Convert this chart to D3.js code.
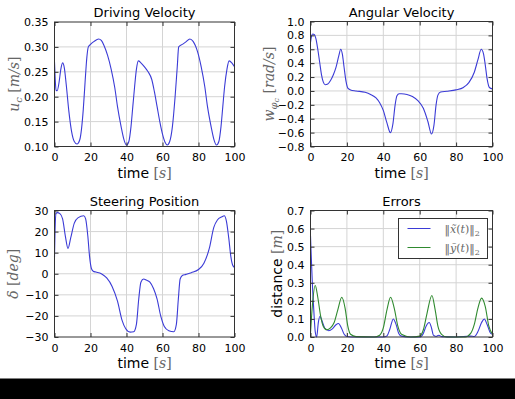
<!DOCTYPE html>
<meta charset="utf-8">
<style>
body { margin: 0; background: #fff; }
.tick text { font-family: "DejaVu Sans"; font-size: 11px; fill: #000; }
.title { font-family: "DejaVu Sans"; font-size: 13px; text-anchor: middle; }
.xlab { font-family: "DejaVu Sans"; font-size: 14px; text-anchor: middle; }
.math { font-family: "DejaVu Serif"; fill: #666; }
</style>
<body>
<script src="https://cdn.jsdelivr.net/npm/d3@7/dist/d3.min.js"></script>
<script>
// x ticks shared by all panels
var timeTicks = [0, 20, 40, 60, 80, 100];

// driving velocity u_c [m/s]
var velT = [0, 0.4, 0.9, 1.5, 2.5, 3.5, 4.5, 5.5, 6.5, 8, 9.5, 11, 12.5, 14, 15, 16, 17, 18, 18.8, 20, 22, 24.5, 26, 27.5, 29.5, 31.5, 33.5, 35, 37, 38.5, 40, 41.3, 42.5, 43.5, 44.5, 45.5, 46.6, 48, 50, 52, 54, 55.5, 57, 58.5, 60, 61.5, 62.6, 64, 65.5, 67, 68.2, 69, 71, 73, 75.2, 77, 79.5, 81.5, 83.5, 85, 87, 88.5, 90, 91.3, 92.5, 93.5, 94.5, 95.8, 97, 98.5, 100];
var velV = [0.27, 0.235, 0.213, 0.212, 0.228, 0.255, 0.268, 0.257, 0.225, 0.17, 0.13, 0.11, 0.105, 0.113, 0.135, 0.175, 0.23, 0.28, 0.30, 0.305, 0.311, 0.316, 0.313, 0.303, 0.283, 0.255, 0.218, 0.18, 0.14, 0.115, 0.103, 0.11, 0.14, 0.18, 0.22, 0.255, 0.272, 0.268, 0.26, 0.25, 0.235, 0.21, 0.18, 0.15, 0.125, 0.108, 0.103, 0.11, 0.14, 0.2, 0.26, 0.30, 0.305, 0.31, 0.316, 0.311, 0.29, 0.26, 0.22, 0.18, 0.14, 0.115, 0.103, 0.11, 0.14, 0.18, 0.22, 0.255, 0.272, 0.268, 0.26];
var velTicks = [0.10, 0.15, 0.20, 0.25, 0.30, 0.35];

// angular velocity w [rad/s]
var angT = [0, 0.5, 1.2, 2.2, 3, 4, 5, 6, 7, 8, 9.5, 11, 12.5, 14, 15.5, 16.6, 17.5, 18.5, 19.5, 20.5, 22, 25, 30, 33, 36, 38, 40, 42, 43.9, 45.3, 46.5, 47.5, 48.7, 50, 53, 56, 59, 62, 64.5, 66.5, 67.8, 69, 70, 71.5, 75, 80, 84, 87, 90, 92, 93.8, 95, 96, 97, 98.3, 100];
var angV = [0.7, 0.78, 0.82, 0.81, 0.75, 0.6, 0.42, 0.24, 0.13, 0.09, 0.1, 0.15, 0.23, 0.34, 0.5, 0.6, 0.53, 0.33, 0.14, 0.04, 0.015, 0.0, -0.02, -0.05, -0.1, -0.17, -0.28, -0.46, -0.6, -0.47, -0.2, -0.07, -0.04, -0.04, -0.05, -0.08, -0.14, -0.25, -0.44, -0.62, -0.5, -0.2, -0.06, -0.015, -0.005, 0.015, 0.05, 0.12, 0.27, 0.45, 0.6, 0.54, 0.38, 0.18, 0.05, 0.03];
var angTicks = [-0.8, -0.6, -0.4, -0.2, 0.0, 0.2, 0.4, 0.6, 0.8, 1.0];

// steering position delta [deg]
var steerT = [0, 0.3, 0.8, 1.5, 3, 4.5, 6, 7.5, 9, 11, 13, 16.3, 17.3, 18.5, 19.5, 20.5, 21.5, 23, 26, 29, 32, 35, 37.5, 39.5, 42, 44, 45.5, 46.8, 48, 49.5, 51, 53, 55, 57, 59, 61, 63.5, 66.3, 67.7, 68.8, 69.8, 71, 73, 76, 80, 83, 86, 88.5, 90.5, 93, 94.3, 95.5, 96.8, 98, 99, 100];
var steerV = [8, 20, 28.5, 29, 28.5, 26, 18, 12, 17, 24, 26.5, 27.5, 26, 18, 8, 2.5, 1.2, 0.8, 0, -2, -6, -13, -22, -26, -27.7, -27.5, -24, -12, -4, -2.5, -3, -4, -7, -12, -20, -25, -27, -27.5, -24, -12, -2.5, -0.8, -0.3, 0.5, 2, 5, 12, 22, 25.5, 27, 27.5, 25, 17, 8, 4, 3];
var steerTicks = [-30, -20, -10, 0, 10, 20, 30];

// errors ||x~(t)||_2 and ||y~(t)||_2 [m]
var errXT = [0, 0.4, 1, 1.8, 2.6, 3.4, 4.3, 5.2, 6.3, 7.8, 10, 12, 14, 15.4, 17, 18.5, 20, 25, 30, 40, 42, 43.5, 45.5, 47, 48.5, 50, 55, 60, 62, 63.5, 65.2, 66.5, 67.5, 69, 70.5, 72, 80, 88, 90, 92, 94, 95.5, 97, 99, 100];
var errXV = [0.56, 0.45, 0.3, 0.15, 0.03, 0.0, 0.08, 0.115, 0.09, 0.05, 0.035, 0.045, 0.068, 0.075, 0.05, 0.015, 0.003, 0.0, 0.0, 0.0, 0.006, 0.04, 0.1, 0.07, 0.02, 0.005, 0.0, 0.0, 0.02, 0.06, 0.08, 0.05, 0.01, 0.003, 0.01, 0.002, 0.0, 0.005, 0.003, 0.03, 0.08, 0.1, 0.07, 0.02, 0.015];
var errYT = [0, 1, 2.6, 4, 5.5, 7, 9, 11, 13, 15, 17.2, 19, 20.5, 22, 25, 35, 38, 40, 42, 44, 46, 48, 50, 55, 60, 62, 64, 66.7, 68.5, 70, 72, 75, 85, 88, 90, 92, 94, 96, 98, 100];
var errYV = [0.02, 0.17, 0.285, 0.22, 0.12, 0.06, 0.04, 0.05, 0.08, 0.15, 0.22, 0.16, 0.06, 0.015, 0.002, 0.0, 0.01, 0.05, 0.15, 0.22, 0.16, 0.06, 0.015, 0.0, 0.005, 0.04, 0.13, 0.23, 0.15, 0.06, 0.015, 0.0, 0.0, 0.02, 0.07, 0.16, 0.215, 0.17, 0.06, 0.015];
var errTicks = [0.0, 0.1, 0.2, 0.3, 0.4, 0.5, 0.6, 0.7];

var svg = d3.select("body").append("svg")
    .attr("width", 515)
    .attr("height", 399);

svg.append("rect").attr("width", 515).attr("height", 399).attr("fill", "#fff");
svg.append("rect").attr("x", 0).attr("y", 378.5).attr("width", 515).attr("height", 21).attr("fill", "#000");

// label made of pieces (sans words + math-ish serif bits)
function richText(sel, parts) {
  parts.forEach(function(p) {
    var ts = sel.append("tspan").text(p.t);
    if (p.math) ts.attr("class", "math");
    if (p.it) ts.attr("font-style", "italic");
    if (p.size) ts.attr("font-size", p.size);
    if (p.dy) ts.attr("dy", p.dy);
  });
}

function panel(o) {
  var g = svg.append("g").attr("transform", "translate(" + o.left + "," + o.top + ")");
  var w = o.width, h = o.height;
  var x = d3.scaleLinear().domain([0, 100]).range([0, w]);
  var y = d3.scaleLinear().domain(o.domain).range([h, 0]);

  // grid
  g.append("g").selectAll("line").data(timeTicks.slice(1, -1)).enter().append("line")
      .attr("x1", function(d) { return x(d); }).attr("x2", function(d) { return x(d); })
      .attr("y1", 0).attr("y2", h).attr("stroke", "#d4d4d4");
  g.append("g").selectAll("line").data(o.ticks.slice(1, -1)).enter().append("line")
      .attr("y1", function(d) { return y(d); }).attr("y2", function(d) { return y(d); })
      .attr("x1", 0).attr("x2", w).attr("stroke", "#d4d4d4");

  // series
  var line = d3.line().curve(d3.curveMonotoneX)
      .x(function(d) { return x(d[0]); })
      .y(function(d) { return y(d[1]); });
  o.series.forEach(function(s) {
    g.append("path")
        .datum(d3.zip(s.t, s.v))
        .attr("fill", "none")
        .attr("stroke", s.color)
        .attr("stroke-width", 1.1)
        .attr("d", line);
  });

  // axes, ticks pointing inward on all sides
  g.append("g").attr("transform", "translate(0," + h + ")")
      .call(d3.axisBottom(x).tickValues(timeTicks).tickSizeInner(-4).tickSizeOuter(0).tickPadding(7))
      .call(function(a) { a.select(".domain").remove(); });
  g.append("g")
      .call(d3.axisTop(x).tickValues(timeTicks).tickSizeInner(-4).tickSizeOuter(0).tickFormat(""))
      .call(function(a) { a.select(".domain").remove(); });
  g.append("g")
      .call(d3.axisLeft(y).tickValues(o.ticks).tickSizeInner(-4).tickSizeOuter(0).tickPadding(6).tickFormat(d3.format(o.fmt)))
      .call(function(a) { a.select(".domain").remove(); });
  g.append("g").attr("transform", "translate(" + w + ",0)")
      .call(d3.axisRight(y).tickValues(o.ticks).tickSizeInner(-4).tickSizeOuter(0).tickFormat(""))
      .call(function(a) { a.select(".domain").remove(); });
  g.selectAll(".tick line").attr("stroke", "#333");

  g.append("rect").attr("width", w).attr("height", h)
      .attr("fill", "none").attr("stroke", "#333").attr("stroke-width", 1);

  g.append("text").attr("class", "title").attr("x", w / 2).attr("y", -5).text(o.title);

  var xl = g.append("text").attr("class", "xlab").attr("x", w / 2).attr("y", h + 31);
  richText(xl, [{t: "time  "}, {t: "[", math: true}, {t: "s", math: true, it: true}, {t: "]", math: true}]);

  var yl = g.append("text").attr("class", "xlab")
      .attr("transform", "translate(" + o.ylabX + "," + (h / 2) + ") rotate(-90)");
  richText(yl, o.ylabel);
  return {g: g, x: x, y: y};
}

panel({left: 54.5, top: 22, width: 180, height: 124.5, domain: [0.10, 0.35], ticks: velTicks, fmt: ".2f",
  title: "Driving Velocity", ylabX: -36,
  ylabel: [{t: "u", math: true, it: true}, {t: "c", math: true, it: true, size: "10px", dy: 3}, {t: "  [", math: true, dy: -3}, {t: "m/s", math: true, it: true}, {t: "]", math: true}],
  series: [{t: velT, v: velV, color: "#3b3bd6"}]});

panel({left: 310.5, top: 21.5, width: 182, height: 125, domain: [-0.8, 1.0], ticks: angTicks, fmt: ".1f",
  title: "Angular Velocity", ylabX: -37,
  ylabel: [{t: "w", math: true, it: true}, {t: "φ", math: true, it: true, size: "10px", dy: 3}, {t: "c", math: true, it: true, size: "8px", dy: 2}, {t: "  [", math: true, dy: -5}, {t: "rad/s", math: true, it: true}, {t: "]", math: true}],
  series: [{t: angT, v: angV, color: "#3b3bd6"}]});

panel({left: 54.5, top: 210.5, width: 180, height: 126.5, domain: [-30, 30], ticks: steerTicks, fmt: "d",
  title: "Steering Position", ylabX: -37,
  ylabel: [{t: "δ", math: true, it: true}, {t: "  [", math: true}, {t: "deg", math: true, it: true}, {t: "]", math: true}],
  series: [{t: steerT, v: steerV, color: "#3b3bd6"}]});

var br = panel({left: 310.5, top: 210.5, width: 182, height: 126.5, domain: [0, 0.7], ticks: errTicks, fmt: ".1f",
  title: "Errors", ylabX: -29,
  ylabel: [{t: "distance  "}, {t: "[", math: true}, {t: "m", math: true, it: true}, {t: "]", math: true}],
  series: [{t: errXT, v: errXV, color: "#3b3bd6"}, {t: errYT, v: errYV, color: "#2f8a2f"}]});

// legend
var lg = br.g.append("g").attr("transform", "translate(88,8)");
lg.append("rect").attr("width", 89).attr("height", 40).attr("fill", "#fff").attr("stroke", "#333");
var legendItems = [{name: "x̃", color: "#3b3bd6"}, {name: "ỹ", color: "#2f8a2f"}];
legendItems.forEach(function(d, i) {
  var yy = 10 + i * 19;
  lg.append("line").attr("x1", 9).attr("x2", 32).attr("y1", yy).attr("y2", yy).attr("stroke", d.color);
  var t = lg.append("text").attr("x", 46).attr("y", yy + 4).attr("font-size", "11px");
  richText(t, [{t: "‖", math: true}, {t: d.name, math: true, it: true}, {t: "(", math: true}, {t: "t", math: true, it: true}, {t: ")‖", math: true}, {t: "2", math: true, size: "8px", dy: 3}]);
});
</script>
</body>
